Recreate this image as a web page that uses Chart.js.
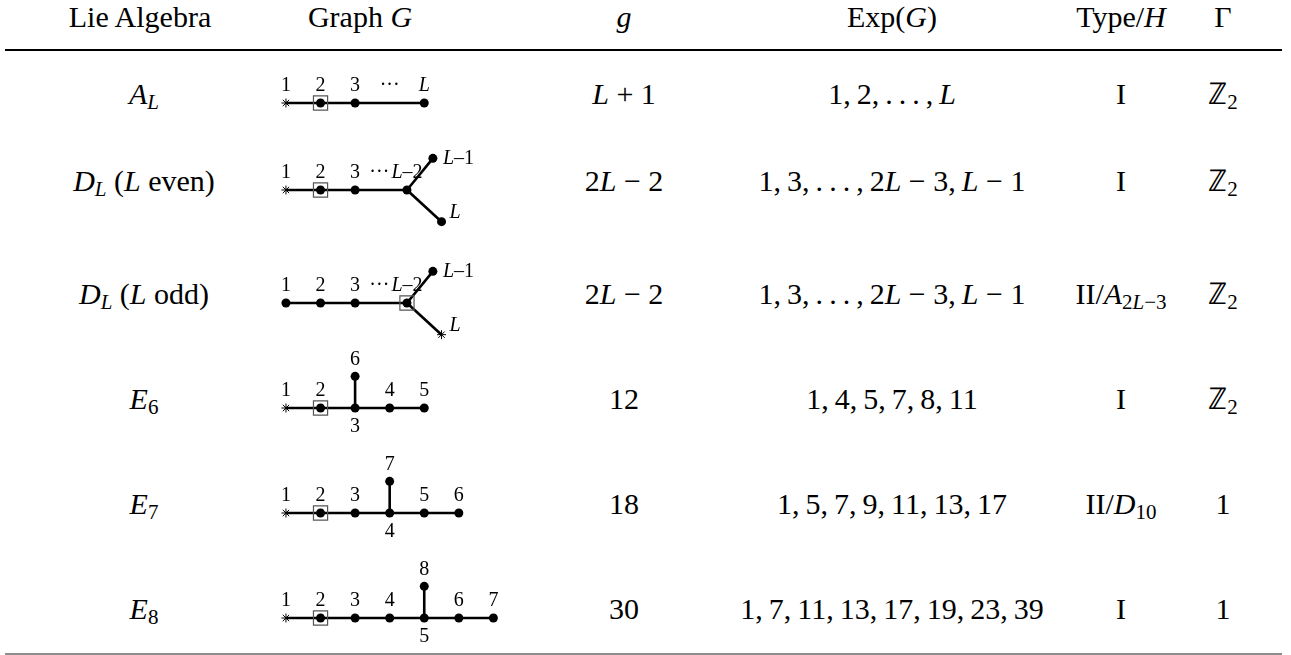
<!DOCTYPE html>
<html>
<head>
<meta charset="utf-8">
<script src="https://cdn.jsdelivr.net/npm/chart.js@4"></script>
<style>
  html, body { margin: 0; padding: 0; background: #fff; }
  #page {
    position: relative; width: 1291px; height: 655px; overflow: hidden;
    font-family: "Liberation Serif", "Times New Roman", serif; font-size: 30px; color: #000;
  }
  .t { position: absolute; line-height: 0; white-space: nowrap; transform: translateX(-50%); }
  .t sub { font-size: 0.7em; line-height: 0; vertical-align: -0.22em; }
  .rule { position: absolute; left: 5px; width: 1277px; }
  canvas { position: absolute; }
</style>
</head>
<body>
<div id="page"></div>
<script>
// table text
const headers = ["Lie Algebra", "Graph <i>G</i>", "<i>g</i>", "Exp(<i>G</i>)", "Type/<i>H</i>", "Γ"];
const lieAlgebras = [
  "<i>A</i><sub><i>L</i></sub>",
  "<i>D</i><sub><i>L</i></sub> (<i>L</i> even)",
  "<i>D</i><sub><i>L</i></sub> (<i>L</i> odd)",
  "<i>E</i><sub>6</sub>",
  "<i>E</i><sub>7</sub>",
  "<i>E</i><sub>8</sub>"
];
const gValues = ["<i>L</i> + 1", "2<i>L</i> − 2", "2<i>L</i> − 2", "12", "18", "30"];
const exponents = [
  "1,\u20092,\u2009.\u2009.\u2009.\u2009,\u2009<i>L</i>",
  "1,\u20093,\u2009.\u2009.\u2009.\u2009,\u20092<i>L</i> − 3,\u2009<i>L</i> − 1",
  "1,\u20093,\u2009.\u2009.\u2009.\u2009,\u20092<i>L</i> − 3,\u2009<i>L</i> − 1",
  "1,\u20094,\u20095,\u20097,\u20098,\u200911",
  "1,\u20095,\u20097,\u20099,\u200911,\u200913,\u200917",
  "1,\u20097,\u200911,\u200913,\u200917,\u200919,\u200923,\u200939"
];
const types = ["I", "I", "II/<i>A</i><sub>2<i>L</i>−3</sub>", "I", "II/<i>D</i><sub>10</sub>", "I"];
const gammas = ["ℤ<sub>2</sub>", "ℤ<sub>2</sub>", "ℤ<sub>2</sub>", "ℤ<sub>2</sub>", "1", "1"];

// graphs: nodes [x, y, kind], edges [from, to], labels [x, y, text, side]
const aNodes = [[0, 0, "star"], [1, 0, "box"], [2, 0, "dot"], [4, 0, "dot"]];
const aEdges = [[0, 1], [1, 2], [2, 3]];
const aLabels = [[0, 0, "1", "n"], [1, 0, "2", "n"], [2, 0, "3", "n"], [3, 0, "···", "n"], [4, 0, "L", "n"]];

const dEvenNodes = [[0, 0, "star"], [1, 0, "box"], [2, 0, "dot"], [3.5, 0, "dot"], [4.25, 1, "dot"], [4.5, -1, "dot"]];
const dEvenEdges = [[0, 1], [1, 2], [2, 3], [3, 4], [3, 5]];
const dEvenLabels = [[0, 0, "1", "n"], [1, 0, "2", "n"], [2, 0, "3", "n"], [2.7, 0, "···", "n"],
  [3.5, 0, "L–2", "n"], [4.25, 1, "L–1", "e"], [4.5, -1, "L", "ne"]];

const dOddNodes = [[0, 0, "dot"], [1, 0, "dot"], [2, 0, "dot"], [3.5, 0, "box"], [4.25, 1, "dot"], [4.5, -1, "star"]];
const dOddEdges = [[0, 1], [1, 2], [2, 3], [3, 4], [3, 5]];
const dOddLabels = [[0, 0, "1", "n"], [1, 0, "2", "n"], [2, 0, "3", "n"], [2.7, 0, "···", "n"],
  [3.5, 0, "L–2", "n"], [4.25, 1, "L–1", "e"], [4.5, -1, "L", "ne"]];

const e6Nodes = [[0, 0, "star"], [1, 0, "box"], [2, 0, "dot"], [3, 0, "dot"], [4, 0, "dot"], [2, 1, "dot"]];
const e6Edges = [[0, 1], [1, 2], [2, 3], [3, 4], [2, 5]];
const e6Labels = [[0, 0, "1", "n"], [1, 0, "2", "n"], [2, 0, "3", "s"], [3, 0, "4", "n"], [4, 0, "5", "n"], [2, 1, "6", "n"]];

const e7Nodes = [[0, 0, "star"], [1, 0, "box"], [2, 0, "dot"], [3, 0, "dot"], [4, 0, "dot"], [5, 0, "dot"], [3, 1, "dot"]];
const e7Edges = [[0, 1], [1, 2], [2, 3], [3, 4], [4, 5], [3, 6]];
const e7Labels = [[0, 0, "1", "n"], [1, 0, "2", "n"], [2, 0, "3", "n"], [3, 0, "4", "s"], [4, 0, "5", "n"], [5, 0, "6", "n"], [3, 1, "7", "n"]];

const e8Nodes = [[0, 0, "star"], [1, 0, "box"], [2, 0, "dot"], [3, 0, "dot"], [4, 0, "dot"], [5, 0, "dot"], [6, 0, "dot"], [4, 1, "dot"]];
const e8Edges = [[0, 1], [1, 2], [2, 3], [3, 4], [4, 5], [5, 6], [4, 7]];
const e8Labels = [[0, 0, "1", "n"], [1, 0, "2", "n"], [2, 0, "3", "n"], [3, 0, "4", "n"], [4, 0, "5", "s"], [5, 0, "6", "n"], [6, 0, "7", "n"], [4, 1, "8", "n"]];

// layout
const page = document.getElementById("page");
const colCenters = [144, 360, 624, 892, 1121, 1223];
const rowLines = [103, 190, 303, 408, 513, 618];
const UNIT = 37.7;        // px per node step
const GRAPH_LEFT = 250, GRAPH_W = 270, GRAPH_H = 140, ORIGIN_X = 27;

function put(html, cx, cy) {
  const d = document.createElement("div");
  d.className = "t";
  d.innerHTML = html;
  d.style.left = cx + "px";
  d.style.top = cy + "px";
  page.appendChild(d);
}

function rule(top, h, color) {
  const r = document.createElement("div");
  r.className = "rule";
  r.style.top = top + "px";
  r.style.height = h + "px";
  r.style.background = color;
  page.appendChild(r);
}

headers.forEach((h, i) => put(h, i === 0 ? 140 : colCenters[i], 17));
rule(49, 1.5, "#000");
rule(653, 1.5, "#8c8c8c");

const columns = [lieAlgebras, null, gValues, exponents, types, gammas];
rowLines.forEach((y, r) => {
  columns.forEach((col, c) => {
    if (col) put(col[r], colCenters[c], y - 9);
  });
});

// node labels plugin
const nodeLabels = {
  id: "nodeLabels",
  afterDatasetsDraw(chart, args, opts) {
    const ctx = chart.ctx;
    const xs = chart.scales.x, ys = chart.scales.y;
    ctx.save();
    ctx.fillStyle = "#000";
    ctx.textBaseline = "middle";
    ctx.textAlign = "left";
    opts.labels.forEach(([x, y, text, side]) => {
      const px = xs.getPixelForValue(x);
      const py = ys.getPixelForValue(y);
      const parts = text[0] === "L" ? [["italic ", "L"], ["", text.slice(1)]] : [["", text]];
      let total = 0;
      parts.forEach(p => {
        ctx.font = p[0] + '20px "Liberation Serif", serif';
        p.push(ctx.measureText(p[1]).width);
        total += p[2];
      });
      let sx, sy;
      if (side === "n") { sx = px - total / 2; sy = py - 17; }
      else if (side === "s") { sx = px - total / 2; sy = py + 19; }
      else if (side === "e") { sx = px + 10; sy = py; }
      else { sx = px + 8; sy = py - 9; }
      parts.forEach(p => {
        ctx.font = p[0] + '20px "Liberation Serif", serif';
        ctx.fillText(p[1], sx, sy);
        sx += p[2];
      });
    });
    ctx.restore();
  }
};

function drawGraph(row, nodes, edges, labels) {
  const canvas = document.createElement("canvas");
  canvas.width = GRAPH_W;
  canvas.height = GRAPH_H;
  canvas.style.left = GRAPH_LEFT + "px";
  canvas.style.top = (rowLines[row] - GRAPH_H / 2) + "px";
  page.appendChild(canvas);

  const pt = n => ({ x: n[0], y: n[1] });
  const datasets = [
    {
      data: nodes.filter(n => n[2] !== "star").map(pt),
      pointStyle: "circle", pointRadius: 4.5, backgroundColor: "#000",
      borderColor: "#000", borderWidth: 0, showLine: false, order: 0
    },
    {
      data: nodes.filter(n => n[2] === "box").map(pt),
      pointStyle: "rect", pointRadius: 10, backgroundColor: "rgba(0,0,0,0)",
      borderColor: "#555", borderWidth: 1.2, showLine: false, order: 1
    },
    {
      data: nodes.filter(n => n[2] === "star").map(pt),
      pointStyle: "star", pointRadius: 4.5, backgroundColor: "#000",
      borderColor: "#000", borderWidth: 1, showLine: false, order: 2
    }
  ];
  edges.forEach(e => {
    datasets.push({
      data: [pt(nodes[e[0]]), pt(nodes[e[1]])],
      showLine: true, borderColor: "#000", borderWidth: 2.6,
      pointRadius: 0, order: 3
    });
  });

  new Chart(canvas, {
    type: "scatter",
    data: { datasets },
    options: {
      responsive: false,
      animation: false,
      devicePixelRatio: 1,
      layout: { padding: 0 },
      events: [],
      scales: {
        x: { type: "linear", display: false, bounds: "data",
             min: -ORIGIN_X / UNIT, max: (GRAPH_W - ORIGIN_X) / UNIT },
        y: { type: "linear", display: false, bounds: "data",
             min: -GRAPH_H / 2 / UNIT, max: GRAPH_H / 2 / UNIT }
      },
      plugins: {
        legend: { display: false },
        tooltip: { enabled: false },
        nodeLabels: { labels }
      }
    },
    plugins: [nodeLabels]
  });
}

drawGraph(0, aNodes, aEdges, aLabels);
drawGraph(1, dEvenNodes, dEvenEdges, dEvenLabels);
drawGraph(2, dOddNodes, dOddEdges, dOddLabels);
drawGraph(3, e6Nodes, e6Edges, e6Labels);
drawGraph(4, e7Nodes, e7Edges, e7Labels);
drawGraph(5, e8Nodes, e8Edges, e8Labels);
</script>
</body>
</html>
